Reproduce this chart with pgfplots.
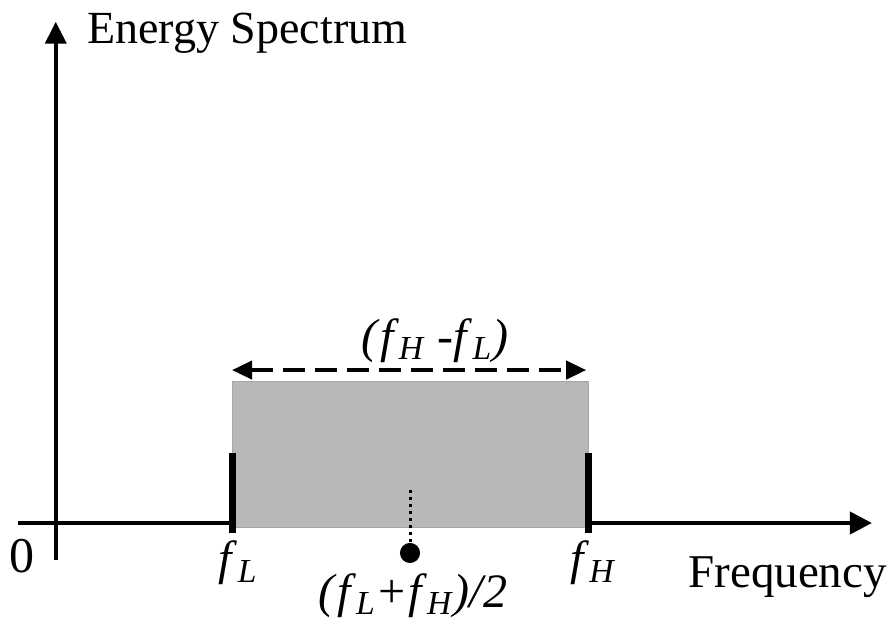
\documentclass[border=0pt]{standalone}
\usepackage{pgfplots}
\pgfplotsset{compat=1.18}
\usepackage{fontspec}
\setmainfont{Liberation Serif}
\usetikzlibrary{arrows.meta}
\newcommand{\fs}[1]{\textit{f}\textsubscript{\textit{#1}}}
\begin{document}
\begin{tikzpicture}
\begin{axis}[
  scale only axis, width=444.5pt, height=311.5pt,
  xmin=-0.6067, xmax=9.382, ymin=-0.7042, ymax=3.683,
  axis lines=none, clip=false,
]
\path (rel axis cs:0,0) rectangle (rel axis cs:1,1);
% axes
\addplot[line width=2pt, -{Triangle[length=11pt,width=11pt]}] coordinates {(-0.404,0) (9.19,0)};
\addplot[line width=2pt, -{Triangle[length=11pt,width=10.5pt]}] coordinates {(0.02,-0.26) (0.02,3.53)};
% band
\addplot[fill=black!28, draw=black!35, line width=0.5pt] coordinates {(2,-0.035) (6,-0.035) (6,1) (2,1)} -- cycle;
% edge bars
\addplot[line width=3.5pt] coordinates {(2,-0.07) (2,0.49)};
\addplot[line width=3.5pt] coordinates {(6,-0.07) (6,0.49)};
% bandwidth arrow
\addplot[line width=2pt, dash pattern=on 11pt off 5pt, {Triangle[length=10pt,width=9pt]}-{Triangle[length=10pt,width=9pt]}] coordinates {(2.0,1.077) (5.98,1.077)};
% centre
\addplot[line width=1.5pt, dotted] coordinates {(4,0.23) (4,-0.15)};
\addplot[only marks, mark=*, mark size=4.8pt, black] coordinates {(4,-0.211)};
% labels
\node[anchor=base west, font=\fontsize{23}{27}\selectfont, inner sep=0pt] at (axis cs:0.371,3.38) {Energy Spectrum};
\node[anchor=base west, font=\fontsize{23.5}{27}\selectfont, inner sep=0pt] at (axis cs:7.124,-0.451) {Frequency};
\node[anchor=base, font=\fontsize{25}{29}\selectfont, inner sep=0pt] at (axis cs:-0.36,-0.352) {0};
\node[anchor=base, font=\fontsize{24}{28}\selectfont, inner sep=0pt] at (axis cs:2.07,-0.366) {\fs{L}};
\node[anchor=base, font=\fontsize{24}{28}\selectfont, inner sep=0pt] at (axis cs:6.06,-0.366) {\fs{H}};
\node[anchor=base, font=\fontsize{24}{28}\selectfont, inner sep=0pt] at (axis cs:4.034,-0.592) {\textit{(}\fs{L}\textit{+}\fs{H}\textit{)/2}};
\node[anchor=base, font=\fontsize{24}{28}\selectfont, inner sep=0pt] at (axis cs:4.28,1.204) {\textit{(}\fs{H}\textit{ -}\fs{L}\textit{)}};
\end{axis}
\end{tikzpicture}
\end{document}
